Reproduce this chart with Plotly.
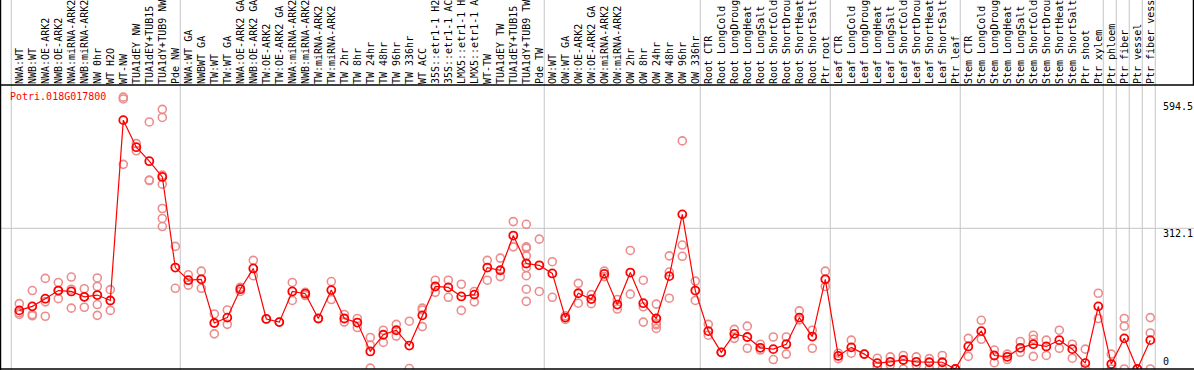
import plotly.graph_objects as go

categories = [
    "NWA:WT", "NWB:WT", "NWA:OE-ARK2", "NWB:OE-ARK2", "NWA:miRNA-ARK2", "NWB:miRNA-ARK2",
    "NW 0hr", "WT H2O", "WT-NW", "TUA1dEY NW", "TUA1dEY+TUB15", "TUA1dY+TUB9 NW", "Pde NW",
    "NWA:WT GA", "NWBWT GA", "TW:WT", "TW:WT GA", "NWA:OE-ARK2 GA", "NWB:OE-ARK2 GA",
    "TW:OE-ARK2", "TW:OE-ARK2 GA", "NWA:miRNA-ARK2", "NWB:miRNA-ARK2", "TW:miRNA-ARK2",
    "TW:miRNA-ARK2 ", "TW 2hr", "TW 8hr", "TW 24hr", "TW 48hr", "TW 96hr", "TW 336hr", "WT ACC",
    "35S::etr1-1 H2O", "35S::etr1-1 ACC", "LMX5::etr1-1 H2O", "LMX5::etr1-1 ACC", "WT-TW",
    "TUA1dEY TW", "TUA1dEY+TUB15 ", "TUA1dY+TUB9 TW", "Pde TW",
    "OW:WT", "OW:WT GA", "OW:OE-ARK2", "OW:OE-ARK2 GA", "OW:miRNA-ARK2", "OW:miRNA-ARK2 ",
    "OW 2hr", "OW 8hr", "OW 24hr", "OW 48hr", "OW 96hr", "OW 336hr",
    "Root CTR", "Root LongCold", "Root LongDrought", "Root LongHeat", "Root LongSalt",
    "Root ShortCold", "Root ShortDrought", "Root ShortHeat", "Root ShortSalt", "Ptr root",
    "Leaf CTR", "Leaf LongCold", "Leaf LongDrought", "Leaf LongHeat", "Leaf LongSalt",
    "Leaf ShortCold", "Leaf ShortDrought", "Leaf ShortHeat", "Leaf ShortSalt", "Ptr leaf",
    "Stem CTR", "Stem LongCold", "Stem LongDrought", "Stem LongHeat", "Stem LongSalt",
    "Stem ShortCold", "Stem ShortDrought", "Stem ShortHeat", "Stem ShortSalt", "Ptr shoot",
    "Ptr xylem", "Ptr phloem", "Ptr fiber", "Ptr vessel", "Ptr fiber vessel",
]

means = [
    130, 139, 156, 174, 172, 160, 164, 152, 552, 492, 461, 426, 225,
    197, 199, 102, 114, 177, 223, 111, 104, 172, 167, 112, 175, 112, 103, 39, 76, 86,
    52, 119, 183, 181, 161, 165, 225, 219, 296, 234, 230,
    212, 114, 168, 155, 211, 143, 214, 146, 112, 206, 343, 174,
    84, 37, 78, 71, 47, 44, 55, 114, 72, 199,
    29, 48, 33, 13, 16, 20, 16, 15, 15, 0,
    50, 84, 30, 27, 47, 55, 50, 64, 44, 13, 139,
    11, 68, 0, 64,
]

replicates = [
    [145, 125, 121], [174, 121, 118], [201, 149, 117], [192, 156, 174], [204, 177, 135],
    [178, 160, 137], [202, 183, 143, 119], [176, 130], [599, 454, 603], [500, 484],
    [548, 419, 418], [576, 558, 430, 410, 356, 334, 316], [272, 179],
    [209, 186], [217, 179], [122, 78], [131, 99], [181, 172], [241, 207], [111], [104],
    [192, 152], [170, 163], [112], [194, 154], [121, 104], [112, 92], [70, 53, 2],
    [86, 59], [99, 73], [106, 1], [135, 131, 94], [197, 170], [197, 159], [188, 130],
    [172, 149], [241, 197], [246, 205], [327, 271],
    [321, 271, 268, 251, 225, 207, 177, 150], [288, 172],
    [238, 159], [118, 110], [190, 146], [165, 145], [217, 205], [154, 133], [263, 166],
    [197, 138, 104], [144, 101, 98, 90], [251, 215, 157], [506, 275, 250], [195, 152],
    [99, 75], [37], [88, 68], [95, 46], [55, 42], [71, 21], [71, 33], [129, 109],
    [86, 46], [217, 183],
    [35, 23], [64, 35], [33], [24, 5], [27, 9], [30, 0], [27, 9], [23, 1], [30, 1], [0],
    [68, 28], [108, 66], [42, 14], [33, 21], [61, 37], [75, 66, 28], [64, 30], [86, 46],
    [55, 24], [44, 0], [168, 112],
    [33, 0], [112, 95, 0], [0], [114, 80, 0],
]

# index of the last category of each group (separator drawn just after it)
group_ends = [-1, 12, 40, 52, 62, 72, 83, 84, 85, 86, 87]
y_labels = [594.5, 312.1, 0]
gene = "Potri.018G017800"

W, H = 1194, 370
ML, MR, MT, MB = 1, 1, 85, 1
PW, PH = W - ML - MR, H - MT - MB

x_idx = list(range(len(categories)))
rep_x, rep_y = [], []
for i, reps in enumerate(replicates):
    for v in reps:
        rep_x.append(i)
        rep_y.append(v)

mono = "DejaVu Sans Mono"
fig = go.Figure()
fig.add_trace(go.Scatter(
    x=rep_x, y=rep_y, mode="markers", hoverinfo="skip",
    marker=dict(symbol="circle-open", size=8, color="rgb(236,140,140)", line=dict(width=1.6)),
))
fig.add_trace(go.Scatter(
    x=x_idx, y=means, mode="lines+markers",
    line=dict(color="red", width=1.2),
    marker=dict(symbol="circle-open", size=8, color="red", line=dict(width=1.8)),
))

shapes = []
for g in group_ends:
    shapes.append(dict(type="line", xref="x", yref="paper", x0=g + 0.38, x1=g + 0.38,
                       y0=-MB / PH, y1=1 + MT / PH, line=dict(color="#c4c4c4", width=1),
                       layer="below"))
shapes.append(dict(type="line", xref="paper", yref="y", x0=0, x1=1 + MR / PW,
                   y0=y_labels[1], y1=y_labels[1], line=dict(color="#c4c4c4", width=1),
                   layer="below"))
# frame
shapes.append(dict(type="line", xref="paper", yref="paper", x0=-ML / PW + 0.0004, x1=-ML / PW + 0.0004,
                   y0=-MB / PH, y1=1 + MT / PH, line=dict(color="black", width=1.5)))
shapes.append(dict(type="line", xref="paper", yref="paper", x0=1 + 0.5 / PW, x1=1 + 0.5 / PW,
                   y0=1, y1=1 + MT / PH, line=dict(color="black", width=1.5)))
shapes.append(dict(type="line", xref="paper", yref="paper", x0=-ML / PW, x1=1 + MR / PW,
                   y0=1, y1=1, line=dict(color="black", width=1.5)))
shapes.append(dict(type="line", xref="paper", yref="paper", x0=-ML / PW, x1=1 + MR / PW,
                   y0=0, y1=0, line=dict(color="black", width=1.5)))

annotations = [dict(xref="paper", yref="paper", x=(10 - ML - 2) / PW, y=(H - MB - 96.7) / PH,
                    xanchor="left", yanchor="middle", text=gene, showarrow=False,
                    font=dict(family=mono, size=10, color="red"))]
for v, anchor, shift in zip(y_labels, ["top", "top", "bottom"], [2, 2, 0]):
    annotations.append(dict(xref="paper", yref="y", x=(1163 - ML - 2) / PW, y=v,
                            xanchor="left", yanchor=anchor, yshift=shift, text=str(v),
                            showarrow=False, font=dict(family=mono, size=10, color="black")))

fig.update_layout(
    width=W, height=H, margin=dict(l=ML, r=MR, t=MT, b=MB, pad=0, autoexpand=False),
    paper_bgcolor="white", plot_bgcolor="white", showlegend=False,
    shapes=shapes, annotations=annotations,
    xaxis=dict(range=[(ML - 19.3) / 13, (ML + PW - 19.3) / 13], tickmode="array",
               tickvals=x_idx, ticktext=categories, side="top", tickangle=-90,
               showgrid=False, zeroline=False, showline=False, ticks="",
               tickfont=dict(family=mono, size=10, color="black"), automargin=False),
    yaxis=dict(range=[0, PH * 312.1 / 140.7], showgrid=False, zeroline=False,
               showticklabels=False, ticks="", showline=False, automargin=False),
)

fig.write_html("out.html", config={"displayModeBar": False},
               post_script="document.body.style.margin='0';document.body.style.overflow='hidden';")
